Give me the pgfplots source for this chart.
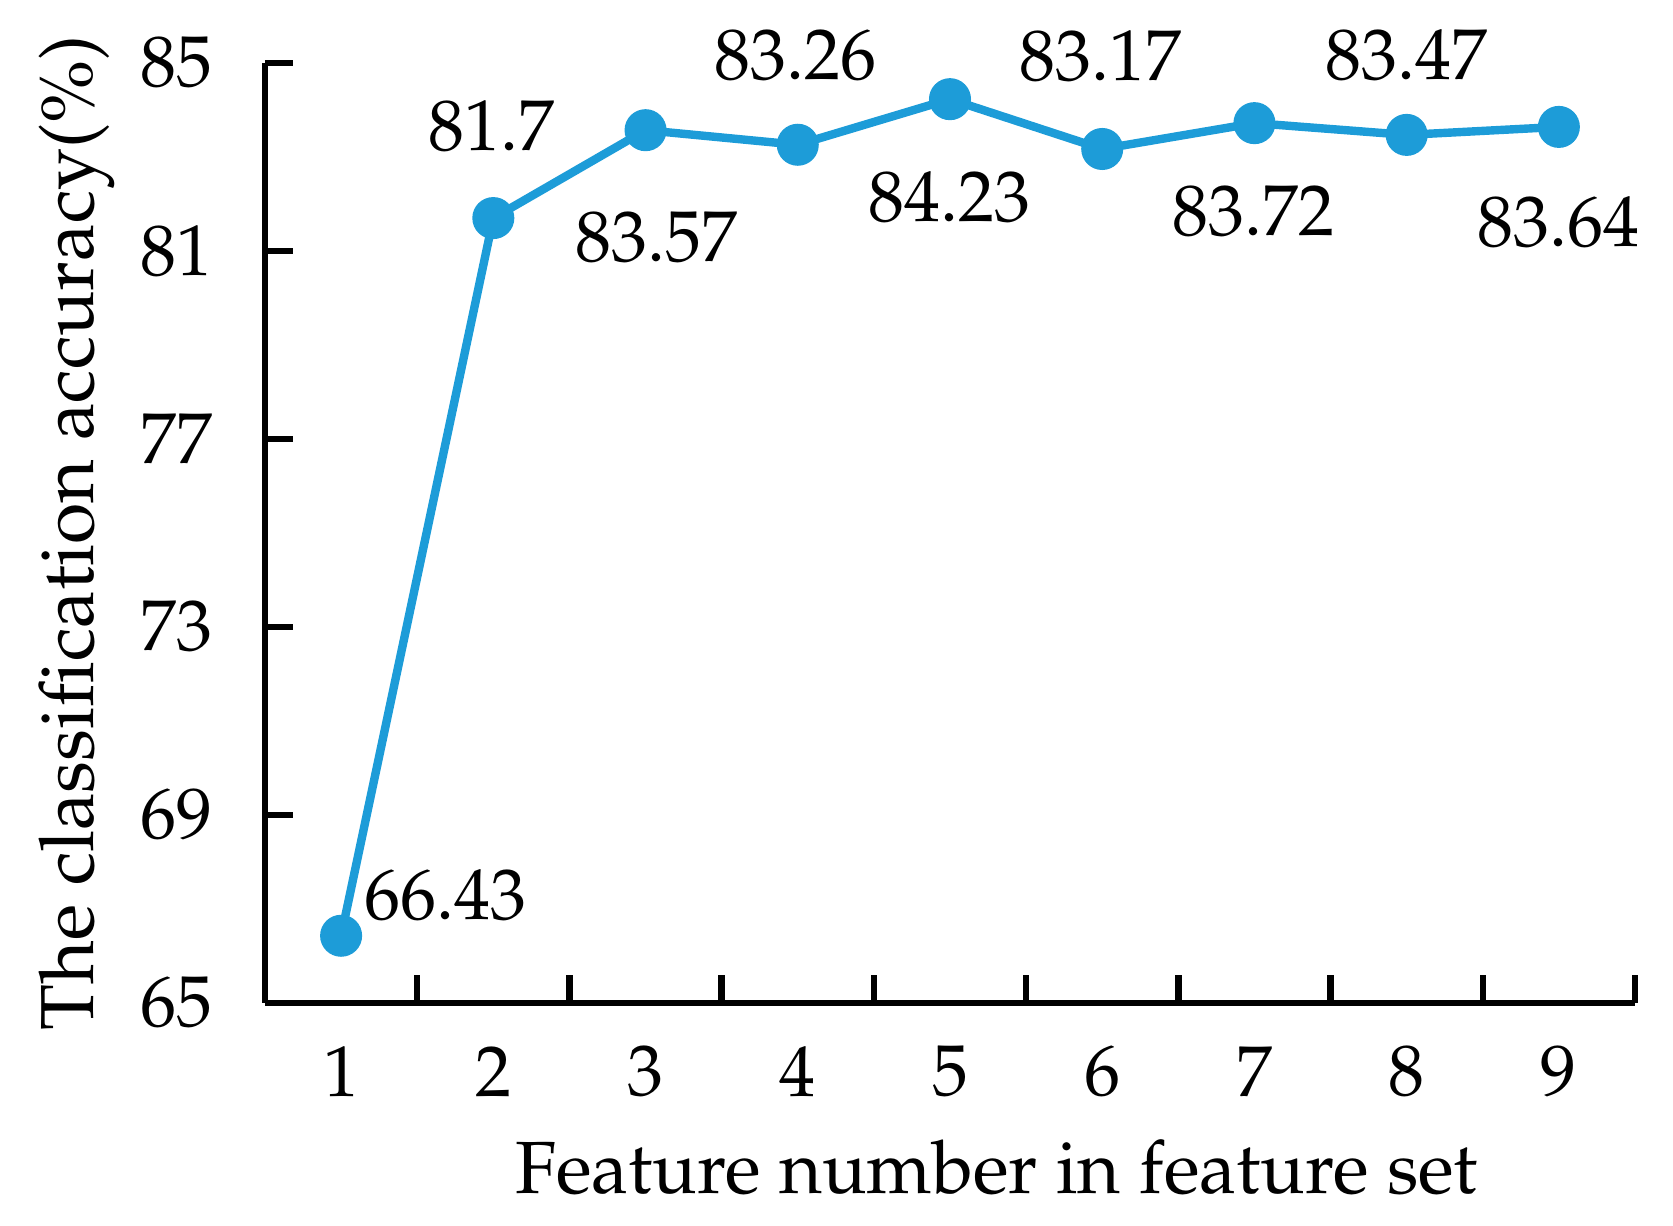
\documentclass[border=0pt]{standalone}
\usepackage[T1]{fontenc}
\usepackage{mathpazo}
\usepackage{pgfplots}
\pgfplotsset{compat=1.18}
\definecolor{lineblue}{RGB}{29,156,216}
\begin{document}
\begin{tikzpicture}[font=\fontsize{18}{21.5}\selectfont]
  \begin{axis}[
    name=ax,
    scale only axis,
    width=342.5pt,
    height=235pt,
    xmin=0.5, xmax=9.5,
    ymin=65, ymax=85,
    axis lines=left,
    axis line style={-, line width=1.6pt},
    xtick={1.5,2.5,...,9.5},
    xticklabels={},
    extra x ticks={1,...,9},
    extra x tick style={major tick length=0pt},
    ytick={65,69,...,85},
    tick align=inside,
    major tick length=7pt,
    tick style={line width=1.6pt, black},
    xticklabel style={anchor=center, yshift=-17.25pt},
    yticklabel style={anchor=east, inner sep=0pt, xshift=-13pt},
    xlabel={Feature number in feature set},
    ylabel={The classification accuracy(\%)},
    label style={font=\fontsize{18.8}{22}\selectfont},
    xlabel style={at={(axis description cs:0.534,-0.1755)}, anchor=center,
      font=\fontsize{18.5}{22}\selectfont},
    ylabel style={at={(axis description cs:-0.137,0.5)}, anchor=center},
    clip=false,
  ]
    \addplot[lineblue, line width=2.1pt, mark=*, mark size=4.2pt,
      mark options={fill=lineblue, draw=lineblue}] coordinates {
      (1,66.43) (2,81.7) (3,83.57) (4,83.26) (5,84.23)
      (6,83.17) (7,83.72) (8,83.47) (9,83.64)
    };
    \node at (axis cs:1.689,67.28) {66.43};
    \node at (axis cs:1.991,83.66) {81.7};
    \node at (axis cs:3.075,81.30) {83.57};
    \node at (axis cs:3.988,85.16) {83.26};
    \node at (axis cs:5.0,82.15) {84.23};
    \node at (axis cs:5.99,85.14) {83.17};
    \node at (axis cs:6.997,81.85) {83.72};
    \node at (axis cs:7.996,85.16) {83.47};
    \node at (axis cs:9.0,81.6) {83.64};
  \end{axis}
  \pgfresetboundingbox
  \path[use as bounding box] ([xshift=-66.25pt,yshift=-55.75pt]ax.south west)
    rectangle ([xshift=9.5pt,yshift=15.75pt]ax.north east);
\end{tikzpicture}
\end{document}
